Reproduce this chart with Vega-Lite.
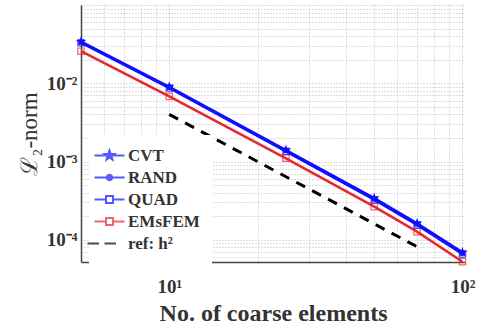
{
  "$schema": "https://vega.github.io/schema/vega-lite/v6.json",
  "autosize": "none",
  "padding": {"left": 81, "top": 5, "right": 17, "bottom": 68},
  "width": 384,
  "height": 257,
  "background": "white",
  "config": {
    "view": {"stroke": null},
    "font": "Liberation Serif",
    "axisX": {
      "labelFont": "Liberation Serif", "labelFontSize": 19, "labelFontWeight": "bold", "labelColor": "#333",
      "titleFont": "Liberation Serif", "titleFontSize": 24, "titleFontWeight": "bold", "titleColor": "#333",
      "ticks": false, "domainColor": "#444", "domainWidth": 1.5, "gridDash": [1, 2], "gridColor": "#bcbcbc",
      "labelOverlap": false, "labelFlush": false
    },
    "axisY": {
      "labelFont": "Liberation Serif", "labelFontSize": 19, "labelFontWeight": "bold", "labelColor": "#333",
      "titleFont": "Liberation Serif", "titleFontSize": 23, "titleFontWeight": "normal", "titleColor": "#333",
      "ticks": false, "domainColor": "#444", "domainWidth": 1.5, "gridDash": [1, 2], "gridColor": "#bcbcbc",
      "labelOverlap": false, "labelFlush": false
    }
  },
  "datasets": {
    "errRows": [
      {"n": 5, "err": 0.0340, "series": "CVT"},
      {"n": 10, "err": 0.0090, "series": "CVT"},
      {"n": 25, "err": 0.00140, "series": "CVT"},
      {"n": 50, "err": 0.000340, "series": "CVT"},
      {"n": 70, "err": 0.000162, "series": "CVT"},
      {"n": 100, "err": 0.0000690, "series": "CVT"},
      {"n": 5, "err": 0.0335, "series": "RAND"},
      {"n": 10, "err": 0.0088, "series": "RAND"},
      {"n": 25, "err": 0.00137, "series": "RAND"},
      {"n": 50, "err": 0.000330, "series": "RAND"},
      {"n": 70, "err": 0.000158, "series": "RAND"},
      {"n": 100, "err": 0.0000670, "series": "RAND"},
      {"n": 5, "err": 0.0330, "series": "QUAD"},
      {"n": 10, "err": 0.0087, "series": "QUAD"},
      {"n": 25, "err": 0.00135, "series": "QUAD"},
      {"n": 50, "err": 0.000325, "series": "QUAD"},
      {"n": 70, "err": 0.000155, "series": "QUAD"},
      {"n": 100, "err": 0.0000660, "series": "QUAD"},
      {"n": 5, "err": 0.0257, "series": "EMsFEM"},
      {"n": 10, "err": 0.0068, "series": "EMsFEM"},
      {"n": 25, "err": 0.00110, "series": "EMsFEM"},
      {"n": 50, "err": 0.000265, "series": "EMsFEM"},
      {"n": 70, "err": 0.000127, "series": "EMsFEM"},
      {"n": 100, "err": 0.0000525, "series": "EMsFEM"}
    ],
    "refRows": [
      {"n": 10, "err": 0.0040},
      {"n": 70, "err": 0.0000816}
    ],
    "keyRows": [
      {"series": "CVT"},
      {"series": "RAND"},
      {"series": "QUAD"},
      {"series": "EMsFEM"},
      {"series": "ref: h²"}
    ]
  },
  "layer": [
    {
      "data": {"name": "refRows"},
      "mark": {"type": "line", "color": "black", "strokeWidth": 3, "strokeDash": [10, 8]},
      "encoding": {
        "x": {
          "field": "n", "type": "quantitative",
          "scale": {"type": "log", "domain": [5, 102], "nice": false},
          "axis": {
            "values": [5, 6, 7, 8, 9, 10, 20, 30, 40, 50, 60, 70, 80, 90, 100],
            "labelExpr": "datum.value == 10 ? '10¹' : (datum.value == 100 ? '10²' : '')",
            "title": "No. of coarse elements", "titlePadding": 5, "labelPadding": 15, "orient": "bottom"
          }
        },
        "y": {
          "field": "err", "type": "quantitative",
          "scale": {"type": "log", "domain": [0.000052, 0.1], "nice": false},
          "axis": {
            "values": [0.00006, 0.00007, 0.00008, 0.00009, 0.0001, 0.0002, 0.0003, 0.0004, 0.0005, 0.0006, 0.0007, 0.0008, 0.0009, 0.001, 0.002, 0.003, 0.004, 0.005, 0.006, 0.007, 0.008, 0.009, 0.01, 0.02, 0.03, 0.04, 0.05, 0.06, 0.07, 0.08, 0.09, 0.1],
            "labelExpr": "datum.value == 0.0001 ? '10⁻⁴' : (datum.value == 0.001 ? '10⁻³' : (datum.value == 0.01 ? '10⁻²' : ''))",
            "title": "ℒ₂-norm", "titlePadding": 5, "labelPadding": 4, "orient": "left"
          }
        }
      }
    },
    {
      "data": {"name": "errRows"},
      "mark": {"type": "line"},
      "encoding": {
        "x": {"field": "n", "type": "quantitative"},
        "y": {"field": "err", "type": "quantitative"},
        "color": {"field": "series", "type": "nominal", "legend": null,
          "scale": {"domain": ["CVT", "RAND", "QUAD", "EMsFEM"], "range": ["#1010ff", "#1010ff", "#1010ff", "#e8262b"]}},
        "strokeWidth": {"field": "series", "type": "nominal", "legend": null,
          "scale": {"domain": ["CVT", "RAND", "QUAD", "EMsFEM"], "range": [2.5, 2.5, 2.5, 1.5]}}
      }
    },
    {
      "data": {"name": "errRows"},
      "transform": [{"filter": "datum.series === 'EMsFEM'"}],
      "mark": {"type": "point", "shape": "square", "filled": false, "color": "#e8262b", "size": 40, "strokeWidth": 1.2},
      "encoding": {
        "x": {"field": "n", "type": "quantitative"},
        "y": {"field": "err", "type": "quantitative"}
      }
    },
    {
      "data": {"name": "errRows"},
      "transform": [{"filter": "datum.series === 'QUAD'"}],
      "mark": {"type": "point", "shape": "square", "filled": false, "color": "#1010ff", "size": 40, "strokeWidth": 1.2},
      "encoding": {
        "x": {"field": "n", "type": "quantitative"},
        "y": {"field": "err", "type": "quantitative"}
      }
    },
    {
      "data": {"name": "errRows"},
      "transform": [{"filter": "datum.series === 'RAND'"}],
      "mark": {"type": "point", "shape": "circle", "filled": true, "color": "#1010ff", "size": 25, "opacity": 1},
      "encoding": {
        "x": {"field": "n", "type": "quantitative"},
        "y": {"field": "err", "type": "quantitative"}
      }
    },
    {
      "data": {"name": "errRows"},
      "transform": [{"filter": "datum.series === 'CVT'"}],
      "mark": {"type": "point", "shape": "M0,-1L0.235,-0.324L0.951,-0.309L0.38,0.124L0.588,0.809L0,0.4L-0.588,0.809L-0.38,0.124L-0.951,-0.309L-0.235,-0.324Z", "filled": true, "color": "#1010ff", "size": 120, "opacity": 1},
      "encoding": {
        "x": {"field": "n", "type": "quantitative"},
        "y": {"field": "err", "type": "quantitative"}
      }
    },
    {
      "data": {"name": "keyRows"},
      "transform": [{"filter": "datum.series === 'none'"}],
      "mark": {"type": "point", "filled": true},
      "encoding": {
        "shape": {"field": "series", "type": "nominal",
          "scale": {"domain": ["CVT", "RAND", "QUAD", "EMsFEM", "ref: h²"],
            "range": [
              "M-3,0H3M0,-1L0.235,-0.324L0.951,-0.309L0.38,0.124L0.588,0.809L0,0.4L-0.588,0.809L-0.38,0.124L-0.951,-0.309L-0.235,-0.324Z",
              "M-3,0H3M-0.55,0L-0.39,-0.39L0,-0.55L0.39,-0.39L0.55,0L0.39,0.39L0,0.55L-0.39,0.39Z",
              "M-3,0H-0.7M0.7,0H3M-0.7,-0.7H0.7V0.7H-0.7Z",
              "M-3,0H-0.7M0.7,0H3M-0.7,-0.7H0.7V0.7H-0.7Z",
              "M-4.4,0H-2.1M-1,0H1.3"
            ]},
          "legend": {
            "title": null, "orient": "none", "legendX": 8, "legendY": 130,
            "padding": 12, "fillColor": "white",
            "symbolSize": 100, "symbolStrokeWidth": 2, "labelOffset": 10, "rowPadding": 4,
            "labelFont": "Liberation Serif", "labelFontSize": 17, "labelFontWeight": "bold", "labelColor": "#333", "labelLimit": 200
          }
        },
        "fill": {"field": "series", "type": "nominal",
          "scale": {"domain": ["CVT", "RAND", "QUAD", "EMsFEM", "ref: h²"], "range": ["#1010ff", "#1010ff", "#ffffff", "#ffffff", "#ffffff"]}},
        "stroke": {"field": "series", "type": "nominal",
          "scale": {"domain": ["CVT", "RAND", "QUAD", "EMsFEM", "ref: h²"], "range": ["#1010ff", "#1010ff", "#1010ff", "#e8262b", "#000000"]}}
      }
    }
  ]
}
